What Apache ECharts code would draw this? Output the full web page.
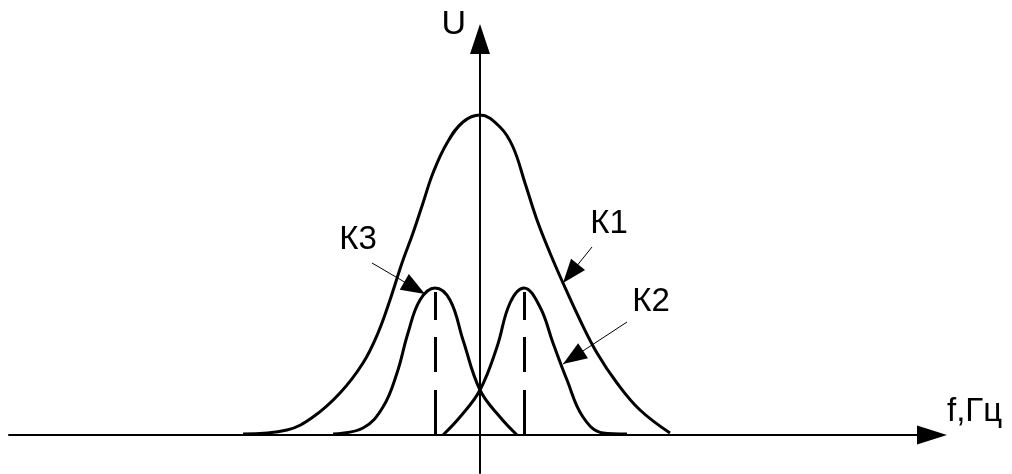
<!DOCTYPE html>
<html>
<head>
<meta charset="utf-8">
<title>К1, К2, К3</title>
<script src="https://cdn.jsdelivr.net/npm/echarts@6.0.0/dist/echarts.min.js"></script>
<style>
  html, body { margin: 0; padding: 0; background: #fff; }
  #main { width: 1012px; height: 474px; }
</style>
</head>
<body>
<div id="main"></div>
<script>
// точки кривых (x - частота, y - напряжение, усл. ед.)
const k1X = [-23.7, -19.3, -16.7, -14.0, -11.7, -10.2, -9.0, -7.8, -6.7, -5.7, -4.7, -3.3, -1.7, 0,
  2.0, 3.3, 4.5, 5.7, 7.0, 8.3, 10.0, 11.7, 13.7, 16.0, 19.0];
const k1Y = [0.1, 0.5, 1.8, 4.2, 7.2, 10.2, 13.5, 17.2, 20.2, 23.2, 26.2, 29.2, 31.3, 32.0,
  30.8, 28.8, 25.2, 21.5, 18.2, 15.2, 11.5, 8.2, 5.2, 2.5, 0.2];

const k2X = [-3.7, -2.0, 0, 1.7, 3.0, 4.4, 6.0, 7.3, 8.7, 10.3, 12.3, 14.7];
const k2Y = [0, 1.8, 4.5, 8.8, 13.2, 14.7, 12.8, 9.2, 5.5, 1.8, 0.2, 0.1];

const k3X = [-14.7, -11.7, -9.7, -8.3, -7.2, -6.0, -4.5, -3.0, -1.7, 0, 2.0, 3.7];
const k3Y = [0.1, 0.7, 2.8, 6.2, 10.2, 13.5, 14.7, 13.5, 9.5, 4.5, 1.8, 0];

// центры К2 и К3 (штриховые линии от вершины до оси)
const k2Center = 4.4;
const k3Center = -4.5;
const dashTop = 14.3;

// подписи и стрелки-выноски
const k1Label = [12.9, 21.1];
const k1ArrowFrom = [11.2, 18.8];
const k1ArrowTo = [8.3, 15.2];
const k2Label = [17.1, 13.3];
const k2ArrowFrom = [14.7, 11.3];
const k2ArrowTo = [8.3, 7.1];
const k3Label = [-12.2, 19.5];
const k3ArrowFrom = [-10.8, 17.2];
const k3ArrowTo = [-5.5, 14.1];

const pairs = (xs, ys) => xs.map((x, i) => [x, ys[i]]);

const font = 'Liberation Sans, Arial, sans-serif';

const arrowMark = (from, to, extra) => ({
  silent: true,
  animation: false,
  label: { show: false },
  lineStyle: { color: '#000', width: 1, type: 'solid' },
  data: [[
    { coord: from, symbol: 'none' },
    { coord: to, symbol: 'triangle', symbolSize: [18, 24], symbolOffset: [0, 12] }
  ]].concat(extra || [])
});

// штрихи на рисунке неравные, сверху вниз: 28, 35, 47
const dashLine = (x) => [
  { coord: [x, dashTop], symbol: 'none', lineStyle: { type: [28, 17, 35, 18, 47, 20], width: 3, color: '#000' } },
  { coord: [x, 0], symbol: 'none' }
];

const textMark = (name, at) => ({
  silent: true,
  animation: false,
  symbol: 'circle',
  symbolSize: 1,
  itemStyle: { color: 'rgba(0,0,0,0)' },
  label: {
    show: true,
    position: 'inside',
    formatter: '{b}',
    color: '#000',
    fontSize: 33,
    fontFamily: font
  },
  data: [{ name: name, coord: at }]
});

const curve = (name, data) => ({
  type: 'line',
  name: name,
  data: data,
  smooth: 0.4,
  showSymbol: false,
  symbol: 'none',
  clip: false,
  lineStyle: { color: '#000', width: 3 },
  emphasis: { disabled: true }
});

const chart = echarts.init(document.getElementById('main'), null, { renderer: 'canvas' });

chart.setOption({
  animation: false,
  backgroundColor: '#fff',
  grid: { left: 9, right: 80, top: 39, bottom: 1, containLabel: false, outerBoundsMode: 'none' },
  xAxis: {
    type: 'value',
    min: -47.1,
    max: 45.2,
    name: 'f,Гц',
    nameLocation: 'end',
    nameGap: 15,
    nameTextStyle: { color: '#000', fontSize: 33, fontFamily: font, verticalAlign: 'bottom', padding: [0, 0, 7, 0] },
    axisLine: {
      onZero: true,
      symbol: ['none', 'triangle'],
      symbolSize: [19, 30],
      lineStyle: { color: '#000', width: 2 }
    },
    axisTick: { show: false },
    axisLabel: { show: false },
    splitLine: { show: false }
  },
  yAxis: {
    type: 'value',
    min: -3.8,
    max: 39.6,
    name: 'U',
    nameLocation: 'end',
    nameGap: -3,
    nameTextStyle: { color: '#000', fontSize: 34, fontFamily: font, align: 'right', padding: [0, 14, 0, 0] },
    axisLine: {
      onZero: true,
      symbol: ['none', 'triangle'],
      symbolSize: [20, 30],
      lineStyle: { color: '#000', width: 2 }
    },
    axisTick: { show: false },
    axisLabel: { show: false },
    splitLine: { show: false }
  },
  series: [
    Object.assign(curve('К1', pairs(k1X, k1Y)), {
      markLine: arrowMark(k1ArrowFrom, k1ArrowTo),
      markPoint: textMark('К1', k1Label)
    }),
    Object.assign(curve('К2', pairs(k2X, k2Y)), {
      markLine: arrowMark(k2ArrowFrom, k2ArrowTo, [dashLine(k2Center)]),
      markPoint: textMark('К2', k2Label)
    }),
    Object.assign(curve('К3', pairs(k3X, k3Y)), {
      markLine: arrowMark(k3ArrowFrom, k3ArrowTo, [dashLine(k3Center)]),
      markPoint: textMark('К3', k3Label)
    })
  ]
});
</script>
</body>
</html>
